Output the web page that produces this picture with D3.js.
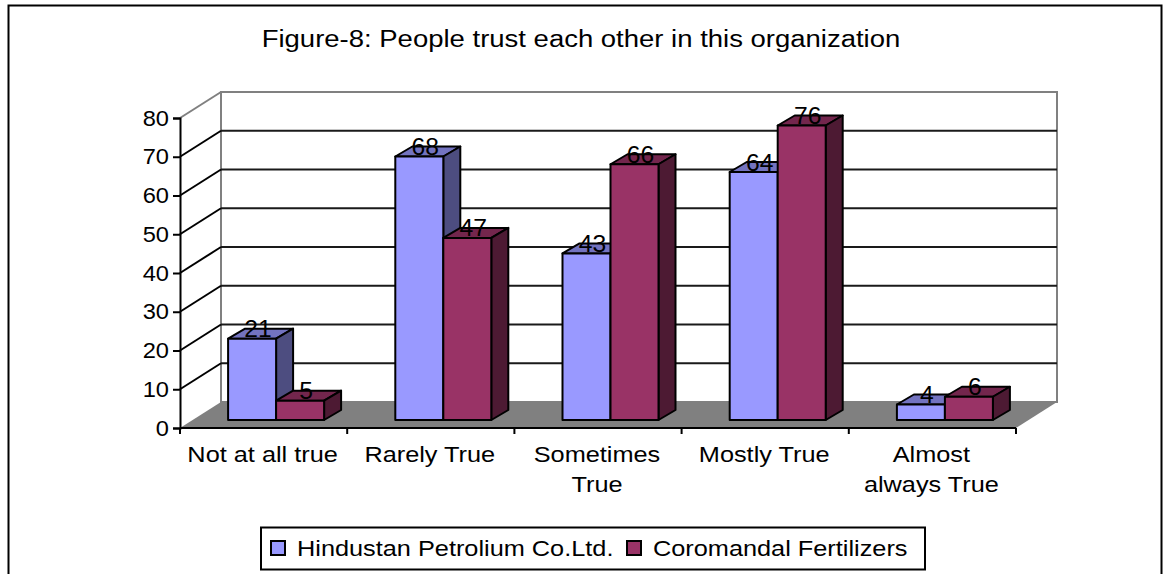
<!DOCTYPE html>
<meta charset="utf-8">
<script src="https://d3js.org/d3.v7.min.js"></script>
<style>
html, body { margin: 0; background: #fff; }
svg { display: block; }
text { font-family: "Liberation Sans", Arial, sans-serif; fill: #000; }
</style>
<body>
<script>
var title = "Figure-8: People trust each other in this organization";
var categories = ["Not at all true", "Rarely True", "Sometimes True", "Mostly True", "Almost always True"];
var categoryLines = [["Not at all true"], ["Rarely True"], ["Sometimes", "True"], ["Mostly True"], ["Almost", "always True"]];
var seriesNames = ["Hindustan Petrolium Co.Ltd.", "Coromandal Fertilizers"];
var hindustan = [21, 68, 43, 64, 4];
var coromandal = [5, 47, 66, 76, 6];
var yTicks = [0, 10, 20, 30, 40, 50, 60, 70, 80];

var colors = [
  { front: "#9999ff", top: "#7373c0", side: "#4d4d80" },
  { front: "#993366", top: "#73264d", side: "#4d1a33" }
];

var width = 1170, height = 574;
var plotLeft = 180, plotRight = 1016, plotBottom = 428, plotTop = 118;
// depth of the 3d floor, and of one bar
var depth = { x: 41, y: -26 };
var barDepth = { x: 17, y: -10 };
var barShift = { x: 12.5, y: -8 };

// the original text is stretched sideways, keep its height
function stretch(sel, k) {
  sel.each(function() {
    var len = this.getComputedTextLength();
    d3.select(this).attr("textLength", len * k).attr("lengthAdjust", "spacingAndGlyphs");
  });
}

var svg = d3.select("body").append("svg")
  .attr("width", width)
  .attr("height", height);

// outer frame runs off the bottom of the picture
svg.append("rect")
  .attr("x", 8.5).attr("y", 5.5)
  .attr("width", 1153).attr("height", 620)
  .attr("fill", "#fff").attr("stroke", "#000").attr("stroke-width", 2);

var titleText = svg.append("text")
  .attr("x", 581).attr("y", 47)
  .attr("text-anchor", "middle")
  .attr("font-size", 23)
  .text(title);
stretch(titleText, 1.195);

var x = d3.scaleBand().domain(categories).range([plotLeft, plotRight]);
var y = d3.scaleLinear().domain([0, 80]).range([plotBottom, plotTop]);

// back wall
svg.append("rect")
  .attr("x", plotLeft + depth.x).attr("y", y(80) + depth.y)
  .attr("width", plotRight - plotLeft).attr("height", plotBottom - plotTop)
  .attr("fill", "#fff").attr("stroke", "#808080").attr("stroke-width", 2);

// floor
var floor = [[plotLeft, plotBottom], [plotRight, plotBottom], [plotRight + depth.x, plotBottom + depth.y], [plotLeft + depth.x, plotBottom + depth.y]];
svg.append("polygon")
  .attr("points", floor.join(" "))
  .attr("fill", "#808080");

// gridlines on side wall and back wall
var grid = svg.append("g").attr("fill", "none").attr("stroke-width", 2);
var inner = yTicks.filter(function(d) { return d > 0 && d < 80; });
grid.selectAll("path.back")
  .data(inner)
  .enter().append("path")
  .attr("class", "back")
  .attr("stroke", "#1a1a1a")
  .attr("d", function(d) {
    return "M" + (plotLeft + depth.x) + "," + (y(d) + depth.y) + "H" + (plotRight + depth.x);
  });
grid.selectAll("path.side")
  .data(inner)
  .enter().append("path")
  .attr("class", "side")
  .attr("stroke", "#000")
  .attr("d", function(d) {
    return "M" + plotLeft + "," + y(d) + "l" + depth.x + "," + depth.y;
  });
grid.append("path")
  .attr("stroke", "#808080")
  .attr("d", "M" + plotLeft + "," + y(80) + "l" + depth.x + "," + depth.y);

// axes
var yAxis = d3.axisLeft(y).tickValues(yTicks).tickSize(7).tickPadding(4);
var yG = svg.append("g")
  .attr("transform", "translate(" + plotLeft + ",0)")
  .call(yAxis);
yG.selectAll("text").attr("font-size", 22.5).attr("font-family", null);
yG.selectAll("text").call(stretch, 1.05);
yG.selectAll("line").attr("stroke", "#000").attr("stroke-width", 2);
yG.select(".domain").attr("stroke", "#000").attr("stroke-width", 2);

var xG = svg.append("g");
xG.append("line")
  .attr("x1", plotLeft).attr("x2", plotRight)
  .attr("y1", plotBottom).attr("y2", plotBottom)
  .attr("stroke", "#000").attr("stroke-width", 2);
xG.selectAll("line.tick")
  .data(categories.concat(["end"]))
  .enter().append("line")
  .attr("class", "tick")
  .attr("x1", function(d, i) { return plotLeft + i * x.step(); })
  .attr("x2", function(d, i) { return plotLeft + i * x.step(); })
  .attr("y1", plotBottom).attr("y2", plotBottom + 6)
  .attr("stroke", "#000").attr("stroke-width", 2);

var labels = xG.selectAll("text.cat")
  .data(categories)
  .enter().append("text")
  .attr("class", "cat")
  .attr("text-anchor", "middle")
  .attr("font-size", 22);
labels.selectAll("tspan")
  .data(function(d, i) {
    return categoryLines[i].map(function(t) { return { text: t, cat: d }; });
  })
  .enter().append("tspan")
  .attr("x", function(d) { return x(d.cat) + x.bandwidth() / 2 - 1; })
  .attr("y", function(d, i) { return 462 + i * 30; })
  .text(function(d) { return d.text; })
  .call(stretch, 1.15);

// bars, drawn in order so the second series sits over the first's side
var barW = 48;
var unit = y(0) - y(1);
function bar3d(g, x0, v, c) {
  var y0 = y(v) + barShift.y, h = unit * v;
  var dx = barDepth.x, dy = barDepth.y;
  g.append("path").attr("fill", c.top)
    .attr("d", "M" + x0 + "," + y0 + "l" + dx + "," + dy + "h" + barW + "l" + (-dx) + "," + (-dy) + "z");
  g.append("path").attr("fill", c.side)
    .attr("d", "M" + (x0 + barW) + "," + y0 + "l" + dx + "," + dy + "v" + h + "l" + (-dx) + "," + (-dy) + "z");
  g.append("rect").attr("fill", c.front)
    .attr("x", x0).attr("y", y0).attr("width", barW).attr("height", h);
  g.selectAll("path,rect")
    .attr("stroke", "#000").attr("stroke-width", 2).attr("stroke-linejoin", "round");
}

var marks = svg.append("g");
categories.forEach(function(cat, i) {
  var mid = x(cat) + x.bandwidth() / 2 + barShift.x;
  bar3d(marks.append("g"), mid - barW, hindustan[i], colors[0]);
  bar3d(marks.append("g"), mid, coromandal[i], colors[1]);
});

// value labels on top of everything
var valueG = svg.append("g").attr("font-size", 23.5).attr("text-anchor", "middle");
[hindustan, coromandal].forEach(function(values, s) {
  valueG.selectAll("text.s" + s)
    .data(values)
    .enter().append("text")
    .attr("class", "s" + s)
    .attr("x", function(d, i) {
      return x(categories[i]) + x.bandwidth() / 2 + barShift.x + (s === 0 ? -barW / 2 : barW / 2) + barDepth.x / 2 - 2.5;
    })
    .attr("y", function(d) { return y(d) + barShift.y + barDepth.y + 8.5; })
    .text(function(d) { return d; })
    .call(stretch, 1.05);
});

// legend
var legend = svg.append("g");
legend.append("rect")
  .attr("x", 261).attr("y", 527.5)
  .attr("width", 664).attr("height", 42)
  .attr("fill", "#fff").attr("stroke", "#000").attr("stroke-width", 2);
var legendX = [271, 627];
seriesNames.forEach(function(name, i) {
  legend.append("rect")
    .attr("x", legendX[i]).attr("y", 541)
    .attr("width", 14).attr("height", 14)
    .attr("fill", colors[i].front)
    .attr("stroke", "#000").attr("stroke-width", 2);
  legend.append("text")
    .attr("x", legendX[i] + 26).attr("y", 556)
    .attr("font-size", 22)
    .text(name)
    .call(stretch, 1.15);
});
</script>
</body>
</html>
